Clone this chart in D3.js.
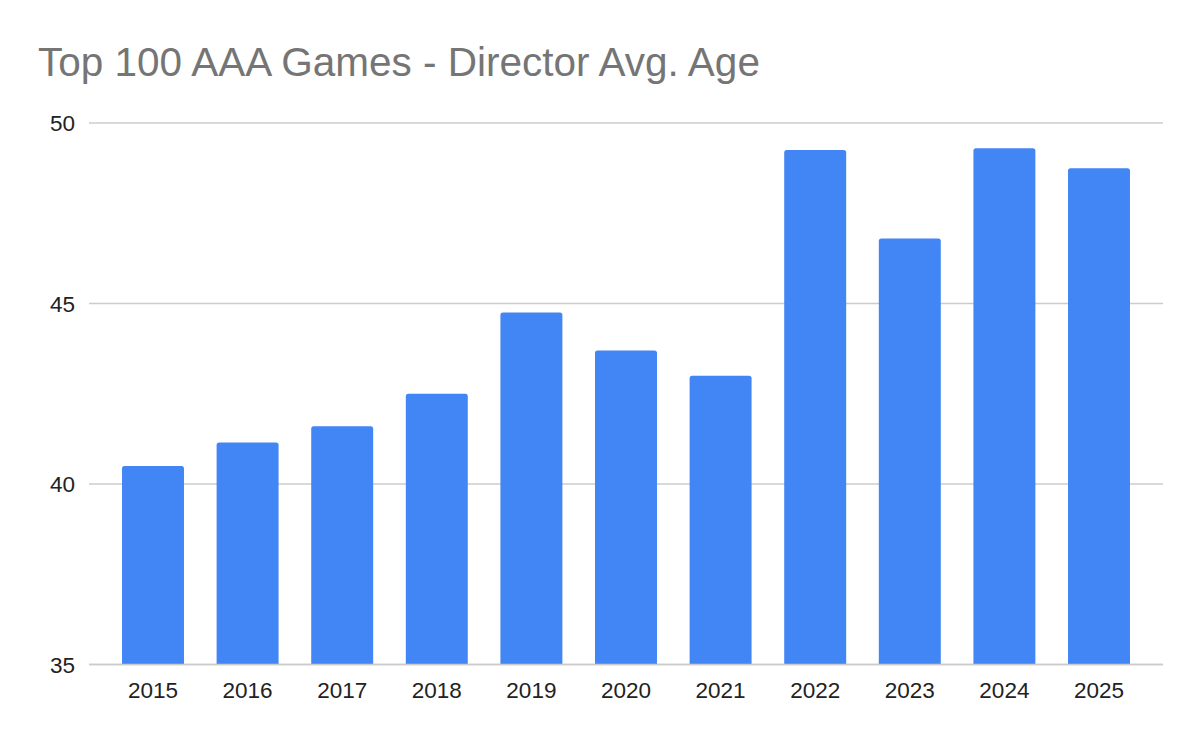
<!DOCTYPE html>
<html>
<head>
<meta charset="utf-8">
<script src="https://cdn.jsdelivr.net/npm/d3@7"></script>
<style>
  html, body { margin: 0; padding: 0; background: #fff; }
  svg { display: block; font-family: "Liberation Sans", Arial, sans-serif; }
</style>
</head>
<body>
<svg id="chart" width="1200" height="742"></svg>
<script>
const title = "Top 100 AAA Games - Director Avg. Age";
const years = ["2015","2016","2017","2018","2019","2020","2021","2022","2023","2024","2025"];
const avgAge = [40.5, 41.15, 41.6, 42.5, 44.75, 43.7, 43.0, 49.25, 46.8, 49.3, 48.75];
const yTicks = [35, 40, 45, 50];

(function () {
const svg = d3.select("#chart");
const plotLeft = 89, plotRight = 1163, plotTop = 123, plotBottom = 664.5;

const x = d3.scaleBand().domain(years).range([plotLeft, plotRight])
  .paddingInner(0.345).paddingOuter(0.349);
const y = d3.scaleLinear().domain([35, 50]).range([plotBottom, plotTop]);

svg.append("rect").attr("width", 1200).attr("height", 742).attr("fill", "#fff");

svg.append("text")
  .attr("x", 38).attr("y", 76)
  .attr("fill", "#757575")
  .style("font-size", "40.5px")
  .text(title);

// gridlines
svg.append("g").selectAll("line").data(yTicks).join("line")
  .attr("x1", plotLeft).attr("x2", plotRight)
  .attr("y1", d => y(d)).attr("y2", d => y(d))
  .attr("stroke", "#cccccc").attr("stroke-width", 1.6);

// y labels
svg.append("g").selectAll("text").data(yTicks).join("text")
  .attr("x", 75).attr("y", d => y(d)).attr("dy", "0.36em")
  .attr("text-anchor", "end")
  .attr("fill", "#222").style("font-size", "22.5px")
  .text(d => d);

// bars with rounded top corners
const r = 2.5;
function barPath(d, i) {
  const x0 = x(years[i]), w = x.bandwidth();
  const y0 = y(d), y1 = y(35);
  return `M${x0},${y1} L${x0},${y0 + r} Q${x0},${y0} ${x0 + r},${y0} L${x0 + w - r},${y0} Q${x0 + w},${y0} ${x0 + w},${y0 + r} L${x0 + w},${y1} Z`;
}
svg.append("g").selectAll("path").data(avgAge).join("path")
  .attr("d", (d, i) => barPath(d, i))
  .attr("fill", "#4285f4");

// baseline on top
svg.append("line")
  .attr("x1", plotLeft).attr("x2", plotRight)
  .attr("y1", y(35)).attr("y2", y(35))
  .attr("stroke", "#cccccc").attr("stroke-width", 1.6);

// x labels
svg.append("g").selectAll("text").data(years).join("text")
  .attr("x", d => x(d) + x.bandwidth() / 2).attr("y", 698)
  .attr("text-anchor", "middle")
  .attr("fill", "#222").style("font-size", "22.5px")
  .text(d => d);
})();
</script>
</body>
</html>
